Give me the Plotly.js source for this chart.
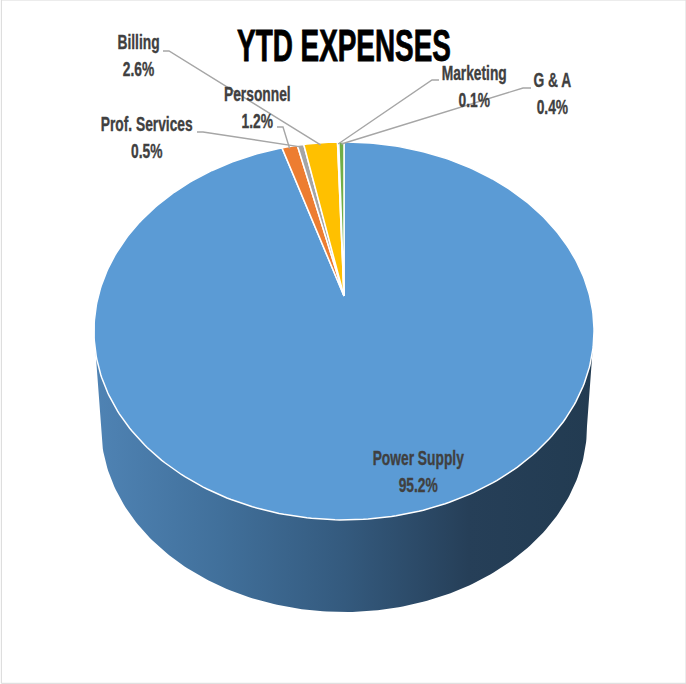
<!DOCTYPE html>
<html><head><meta charset="utf-8">
<script src="https://cdn.plot.ly/plotly-3.0.1.min.js"></script>
<style>html,body{margin:0;padding:0;background:#fff}</style></head>
<body><div id="chart" style="width:686px;height:684px"></div>
<script>
const categories = ["Power Supply","Personnel","Prof. Services","Billing","Marketing","G & A"];
const shares = [95.2,1.2,0.5,2.6,0.1,0.4];
const sliceColors = ["#5B9BD5","#ED7D31","#A5A5A5","#FFC000","#4472C4","#70AD47"];
const labelX = [418,257,146,138,474,552];
const labelY = [471,107,137,55,86,93];
const stubs = [null,[[277,127],[283,127]],[[197,132],[203,132]],[[163,51],[169,51]],[[439,80],[432,80]],[[531,88],[523,88]]];
const wallStops = [[0,"#4F83B4"],[0.25,"#41709B"],[0.5,"#345A7E"],[0.75,"#263F58"],[1,"#223B51"]];

const CX=344, CY=296, W=245.7, H=182.5, K=0.185;
function project(theta){const s=Math.sin(theta),c=Math.cos(theta),d=1+K*c;return [CX+W*s/d, CY-H*c/d];}
const total=shares.reduce((a,b)=>a+b,0);
const traces=[];

// side wall
const wx=[],wy=[];
const BX=344,BY=426,BA=243,BB=186;
for(let i=0;i<=180;i+=1){const t=Math.PI*i/180;wx.push(BX-BA*Math.cos(t));wy.push(BY+BB*Math.sin(t));}
traces.push({type:"scatter",mode:"lines",x:[94,...wx,594,94],y:[331,...wy,331,331],fill:"toself",
  line:{width:0,color:"rgba(0,0,0,0)"},fillgradient:{type:"horizontal",colorscale:wallStops},hoverinfo:"skip",showlegend:false});

// slices, clockwise from the top
let acc=0; const mids=[];
shares.forEach((v,i)=>{
  const a0=acc/total*2*Math.PI, a1=(acc+v)/total*2*Math.PI; acc+=v;
  mids.push((a0+a1)/2);
  const xs=[CX],ys=[CY]; const n=Math.max(4,Math.ceil(v*4));
  for(let j=0;j<=n;j++){const p=project(a0+(a1-a0)*j/n);xs.push(p[0]);ys.push(p[1]);}
  xs.push(CX);ys.push(CY);
  traces.push({type:"scatter",mode:"lines",x:xs,y:ys,fill:"toself",fillcolor:sliceColors[i],
    line:{color:"#ffffff",width:1.5},name:categories[i],hoverinfo:"name",showlegend:false});
});

// leaders
const lineColor="#A6A6A6";
stubs.forEach((st,i)=>{
  if(!st) return;
  const e=project(mids[i]);
  const q=[st[0],st[1],[e[0],e[1]+2]];
  traces.push({type:"scatter",mode:"lines",x:q.map(p=>p[0]),y:q.map(p=>p[1]),line:{color:lineColor,width:1.4},hoverinfo:"skip",showlegend:false});
});

const family="'Liberation Sans',Arial,sans-serif";
const annotations=categories.map((c,i)=>({xref:"x",yref:"y",x:labelX[i],y:labelY[i],showarrow:false,
  align:"center",xanchor:"center",yanchor:"middle",font:{family:family,size:20,color:"#404040"},
  text:"<b>"+c+"</b><br><b>"+shares[i].toFixed(1)+"%</b>"}));

function condense(el,sx,sy,stroke,color){
  const b=el.getBBox(), cx=b.x+b.width/2, cy=b.y+b.height/2;
  const old=el.getAttribute("transform")||"";
  el.setAttribute("transform",`translate(${cx} ${cy}) scale(${sx} ${sy}) translate(${-cx} ${-cy}) ${old}`);
  el.style.stroke=color; el.style.strokeWidth=stroke+"px";
}

Plotly.newPlot("chart",traces,{
  width:686,height:684,margin:{l:0,r:0,t:0,b:0},paper_bgcolor:"#fff",plot_bgcolor:"#fff",showlegend:false,
  title:{text:"<b>YTD EXPENSES</b>",x:344/686,xanchor:"center",y:1-45/684,yanchor:"middle",
    font:{family:family,size:45,color:"#000"}},
  xaxis:{range:[0,686],visible:false,fixedrange:true},
  yaxis:{range:[684,0],visible:false,fixedrange:true},
  annotations:annotations,
  shapes:[{type:"rect",xref:"paper",yref:"paper",x0:0.002,x1:1,y0:0.001,y1:1,line:{color:"#D9D9D9",width:1},fillcolor:"rgba(0,0,0,0)"}]
},{displayModeBar:false,staticPlot:true}).then(gd=>{
  gd.querySelectorAll(".annotation-text").forEach(t=>condense(t,0.69,1.03,0.35,"#404040"));
  gd.querySelectorAll(".gtitle").forEach(t=>condense(t,0.62,1,0.9,"#000"));
});
</script></body></html>
